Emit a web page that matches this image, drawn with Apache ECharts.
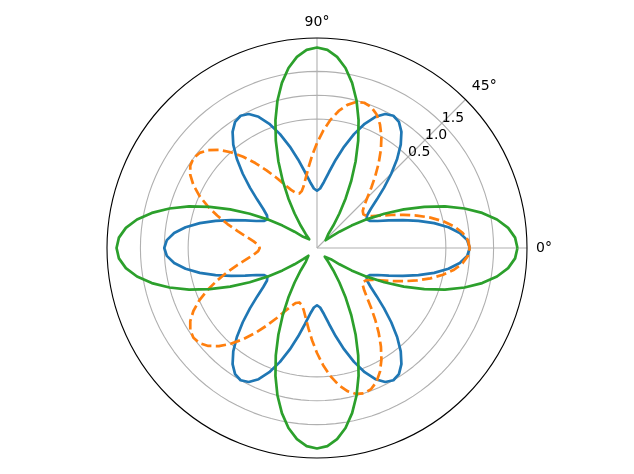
<!DOCTYPE html>
<html>
<head>
<meta charset="utf-8">
<script src="https://cdn.jsdelivr.net/npm/echarts@6/dist/echarts.min.js"></script>
<style>html,body{margin:0;padding:0;background:#fff}#c{width:634px;height:474px}</style>
</head>
<body>
<div id="c"></div>
<script>
// angles in degrees
const theta = [0,3,6,9,12,15,18,21,24,27,30,33,36,39,42,45,48,51,54,57,60,63,66,69,72,75,78,81,84,87,90,93,96,99,102,105,108,111,114,117,120,123,126,129,132,135,138,141,144,147,150,153,156,159,162,165,168,171,174,177,180,183,186,189,192,195,198,201,204,207,210,213,216,219,222,225,228,231,234,237,240,243,246,249,252,255,258,261,264,267,270,273,276,279,282,285,288,291,294,297,300,303,306,309,312,315,318,321,324,327,330,333,336,339,342,345,348,351,354,357,360];
// radial values
const blueR = [
  1,0.951,0.809,0.588,0.309,0,-0.309,-0.588,-0.809,-0.951,-1,-0.951,-0.809,-0.588,-0.309,0,0.309,0.588,0.809,0.951,
  1,0.951,0.809,0.588,0.309,0,-0.309,-0.588,-0.809,-0.951,-1,-0.951,-0.809,-0.588,-0.309,0,0.309,0.588,0.809,0.951,
  1,0.951,0.809,0.588,0.309,0,-0.309,-0.588,-0.809,-0.951,-1,-0.951,-0.809,-0.588,-0.309,0,0.309,0.588,0.809,0.951,
  1,0.951,0.809,0.588,0.309,0,-0.309,-0.588,-0.809,-0.951,-1,-0.951,-0.809,-0.588,-0.309,0,0.309,0.588,0.809,0.951,
  1,0.951,0.809,0.588,0.309,0,-0.309,-0.588,-0.809,-0.951,-1,-0.951,-0.809,-0.588,-0.309,0,0.309,0.588,0.809,0.951,
  1,0.951,0.809,0.588,0.309,0,-0.309,-0.588,-0.809,-0.951,-1,-0.951,-0.809,-0.588,-0.309,0,0.309,0.588,0.809,0.951,
  1];
const orangeR = [
  1,0.966,0.866,0.707,0.5,0.259,0,-0.259,-0.5,-0.707,-0.866,-0.966,-1,-0.966,-0.866,-0.707,-0.5,-0.259,0,0.259,0.5,0.707,0.866,0.966,
  1,0.966,0.866,0.707,0.5,0.259,0,-0.259,-0.5,-0.707,-0.866,-0.966,-1,-0.966,-0.866,-0.707,-0.5,-0.259,0,0.259,0.5,0.707,0.866,0.966,
  1,0.966,0.866,0.707,0.5,0.259,0,-0.259,-0.5,-0.707,-0.866,-0.966,-1,-0.966,-0.866,-0.707,-0.5,-0.259,0,0.259,0.5,0.707,0.866,0.966,
  1,0.966,0.866,0.707,0.5,0.259,0,-0.259,-0.5,-0.707,-0.866,-0.966,-1,-0.966,-0.866,-0.707,-0.5,-0.259,0,0.259,0.5,0.707,0.866,0.966,
  1,0.966,0.866,0.707,0.5,0.259,0,-0.259,-0.5,-0.707,-0.866,-0.966,-1,-0.966,-0.866,-0.707,-0.5,-0.259,0,0.259,0.5,0.707,0.866,0.966,
  1];
const greenR = [
  2,1.956,1.827,1.618,1.338,1,0.618,0.209,-0.209,-0.618,-1,-1.338,-1.618,-1.827,-1.956,-2,-1.956,-1.827,-1.618,-1.338,-1,-0.618,-0.209,0.209,0.618,1,1.338,1.618,1.827,1.956,
  2,1.956,1.827,1.618,1.338,1,0.618,0.209,-0.209,-0.618,-1,-1.338,-1.618,-1.827,-1.956,-2,-1.956,-1.827,-1.618,-1.338,-1,-0.618,-0.209,0.209,0.618,1,1.338,1.618,1.827,1.956,
  2,1.956,1.827,1.618,1.338,1,0.618,0.209,-0.209,-0.618,-1,-1.338,-1.618,-1.827,-1.956,-2,-1.956,-1.827,-1.618,-1.338,-1,-0.618,-0.209,0.209,0.618,1,1.338,1.618,1.827,1.956,
  2,1.956,1.827,1.618,1.338,1,0.618,0.209,-0.209,-0.618,-1,-1.338,-1.618,-1.827,-1.956,-2,-1.956,-1.827,-1.618,-1.338,-1,-0.618,-0.209,0.209,0.618,1,1.338,1.618,1.827,1.956,
  2];
const radialTicks = [0.5, 1.0, 1.5];
const angleTickLabels = [0, 45, 90];
const rMin = -2.2, rMax = 2.2;

function pairs(rs) { return rs.map((r, i) => [r, theta[i]]); }

const font = 'DejaVu Sans';
const grey = '#b0b0b0';
const clear = 'rgba(0,0,0,0)';
const angleSplitColors = [0,45,90,135,180,225,270,315,360].map(a => angleTickLabels.indexOf(a) >= 0 ? grey : clear);

// radial grid circles at the tick values, drawn through the polar scale
const gridSeries = radialTicks.map(t => ({
  type: 'line', coordinateSystem: 'polar', polarIndex: 0, silent: true, z: 1,
  data: theta.map(a => [t, a]), showSymbol: false, smooth: false,
  lineStyle: {color: grey, width: 1.1}
}));

const chart = echarts.init(document.getElementById('c'), null, {renderer: 'canvas'});
chart.setOption({
  animation: false,
  backgroundColor: '#fff',
  polar: [
    {center: [317, 248], radius: 210},
    {center: [317, 248], radius: 210}
  ],
  angleAxis: [
    {
      polarIndex: 0, type: 'value', min: 0, max: 360, interval: 45,
      startAngle: 0, clockwise: false,
      axisLine: {show: true, lineStyle: {color: '#000', width: 1.1}},
      axisTick: {show: false},
      axisLabel: {
        show: true, margin: 9, color: '#000', fontFamily: font, fontSize: 14,
        formatter: v => angleTickLabels.indexOf(v) >= 0 ? v + '°' : ''
      },
      splitLine: {show: true, lineStyle: {color: angleSplitColors, width: 1.1}}
    },
    {
      polarIndex: 1, type: 'value', min: 0, max: 360, startAngle: 45, clockwise: false,
      show: false
    }
  ],
  radiusAxis: [
    {
      polarIndex: 0, type: 'value', min: rMin, max: rMax,
      axisLine: {show: false},
      axisTick: {show: false},
      axisLabel: {show: false},
      splitLine: {show: false}
    },
    {
      polarIndex: 1, type: 'value', min: rMin, max: rMax, z: 10,
      axisLine: {show: false},
      axisTick: {show: false, customValues: radialTicks},
      axisLabel: {show: true, customValues: radialTicks, margin: 0, align: 'left', verticalAlign: 'bottom',
        padding: [0, 0, -2, 0],
        color: '#000', fontFamily: font, fontSize: 14,
        formatter: v => v.toFixed(1)},
      splitLine: {show: false}
    }
  ],
  series: gridSeries.concat([
    {type: 'line', coordinateSystem: 'polar', polarIndex: 0, data: pairs(blueR), smooth: false, showSymbol: false, z: 2,
      lineStyle: {color: '#1f77b4', width: 2.7, join: 'round'}},
    {type: 'line', coordinateSystem: 'polar', polarIndex: 0, data: pairs(orangeR), smooth: false, showSymbol: false, z: 2,
      lineStyle: {color: '#ff7f0e', width: 2.7, type: [10.3, 4.4], join: 'round'}},
    {type: 'line', coordinateSystem: 'polar', polarIndex: 0, data: pairs(greenR), smooth: false, showSymbol: false, z: 2,
      lineStyle: {color: '#2ca02c', width: 2.7, join: 'round'}}
  ])
});
</script>
</body>
</html>
